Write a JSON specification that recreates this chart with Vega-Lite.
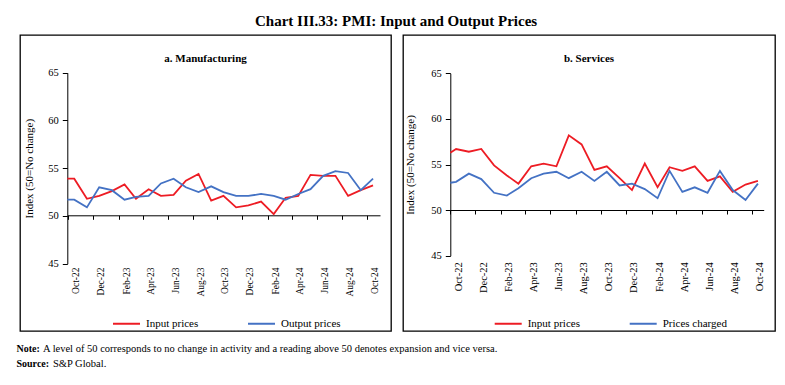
{
  "$schema": "https://vega.github.io/schema/vega-lite/v6.json",
  "padding": {"left": 16, "top": 14, "right": 5, "bottom": 0},
  "config": {
    "font": "Liberation Serif",
    "view": {"stroke": "black", "strokeWidth": 1.3},
    "axis": {"domainColor": "black", "tickColor": "black", "labelColor": "black", "titleColor": "black", "grid": false, "labelFont": "Liberation Serif", "titleFont": "Liberation Serif", "titleFontWeight": "normal"},
    "legend": {"labelFont": "Liberation Serif", "labelColor": "black"}
  },
  "title": {"text": "Chart III.33: PMI: Input and Output Prices", "fontSize": 15, "fontWeight": "bold", "font": "Liberation Serif", "color": "black", "anchor": "middle", "offset": 5},
  "datasets": {
    "mfg": [
      {"month": "2022-09-01T00:00:00", "series": "Input prices", "value": 53.9},
      {"month": "2022-10-01T00:00:00", "series": "Input prices", "value": 53.9},
      {"month": "2022-11-01T00:00:00", "series": "Input prices", "value": 51.8},
      {"month": "2022-12-01T00:00:00", "series": "Input prices", "value": 52.1},
      {"month": "2023-01-01T00:00:00", "series": "Input prices", "value": 52.6},
      {"month": "2023-02-01T00:00:00", "series": "Input prices", "value": 53.3},
      {"month": "2023-03-01T00:00:00", "series": "Input prices", "value": 51.8},
      {"month": "2023-04-01T00:00:00", "series": "Input prices", "value": 52.8},
      {"month": "2023-05-01T00:00:00", "series": "Input prices", "value": 52.1},
      {"month": "2023-06-01T00:00:00", "series": "Input prices", "value": 52.2},
      {"month": "2023-07-01T00:00:00", "series": "Input prices", "value": 53.7},
      {"month": "2023-08-01T00:00:00", "series": "Input prices", "value": 54.4},
      {"month": "2023-09-01T00:00:00", "series": "Input prices", "value": 51.6},
      {"month": "2023-10-01T00:00:00", "series": "Input prices", "value": 52.1},
      {"month": "2023-11-01T00:00:00", "series": "Input prices", "value": 50.9},
      {"month": "2023-12-01T00:00:00", "series": "Input prices", "value": 51.1},
      {"month": "2024-01-01T00:00:00", "series": "Input prices", "value": 51.5},
      {"month": "2024-02-01T00:00:00", "series": "Input prices", "value": 50.2},
      {"month": "2024-03-01T00:00:00", "series": "Input prices", "value": 51.9},
      {"month": "2024-04-01T00:00:00", "series": "Input prices", "value": 52.1},
      {"month": "2024-05-01T00:00:00", "series": "Input prices", "value": 54.3},
      {"month": "2024-06-01T00:00:00", "series": "Input prices", "value": 54.2},
      {"month": "2024-07-01T00:00:00", "series": "Input prices", "value": 54.2},
      {"month": "2024-08-01T00:00:00", "series": "Input prices", "value": 52.1},
      {"month": "2024-09-01T00:00:00", "series": "Input prices", "value": 52.7},
      {"month": "2024-10-01T00:00:00", "series": "Input prices", "value": 53.2},
      {"month": "2022-09-01T00:00:00", "series": "Output prices", "value": 51.7},
      {"month": "2022-10-01T00:00:00", "series": "Output prices", "value": 51.7},
      {"month": "2022-11-01T00:00:00", "series": "Output prices", "value": 50.9},
      {"month": "2022-12-01T00:00:00", "series": "Output prices", "value": 53.0},
      {"month": "2023-01-01T00:00:00", "series": "Output prices", "value": 52.7},
      {"month": "2023-02-01T00:00:00", "series": "Output prices", "value": 51.7},
      {"month": "2023-03-01T00:00:00", "series": "Output prices", "value": 52.0},
      {"month": "2023-04-01T00:00:00", "series": "Output prices", "value": 52.1},
      {"month": "2023-05-01T00:00:00", "series": "Output prices", "value": 53.4},
      {"month": "2023-06-01T00:00:00", "series": "Output prices", "value": 53.9},
      {"month": "2023-07-01T00:00:00", "series": "Output prices", "value": 53.0},
      {"month": "2023-08-01T00:00:00", "series": "Output prices", "value": 52.5},
      {"month": "2023-09-01T00:00:00", "series": "Output prices", "value": 53.1},
      {"month": "2023-10-01T00:00:00", "series": "Output prices", "value": 52.5},
      {"month": "2023-11-01T00:00:00", "series": "Output prices", "value": 52.1},
      {"month": "2023-12-01T00:00:00", "series": "Output prices", "value": 52.1},
      {"month": "2024-01-01T00:00:00", "series": "Output prices", "value": 52.3},
      {"month": "2024-02-01T00:00:00", "series": "Output prices", "value": 52.1},
      {"month": "2024-03-01T00:00:00", "series": "Output prices", "value": 51.7},
      {"month": "2024-04-01T00:00:00", "series": "Output prices", "value": 52.3},
      {"month": "2024-05-01T00:00:00", "series": "Output prices", "value": 52.8},
      {"month": "2024-06-01T00:00:00", "series": "Output prices", "value": 54.2},
      {"month": "2024-07-01T00:00:00", "series": "Output prices", "value": 54.7},
      {"month": "2024-08-01T00:00:00", "series": "Output prices", "value": 54.5},
      {"month": "2024-09-01T00:00:00", "series": "Output prices", "value": 52.7},
      {"month": "2024-10-01T00:00:00", "series": "Output prices", "value": 53.9}
    ],
    "svc": [
      {"month": "2022-09-01T00:00:00", "series": "Input prices", "value": 56.3},
      {"month": "2022-10-01T00:00:00", "series": "Input prices", "value": 56.7},
      {"month": "2022-11-01T00:00:00", "series": "Input prices", "value": 56.4},
      {"month": "2022-12-01T00:00:00", "series": "Input prices", "value": 56.7},
      {"month": "2023-01-01T00:00:00", "series": "Input prices", "value": 54.9},
      {"month": "2023-02-01T00:00:00", "series": "Input prices", "value": 53.8},
      {"month": "2023-03-01T00:00:00", "series": "Input prices", "value": 52.9},
      {"month": "2023-04-01T00:00:00", "series": "Input prices", "value": 54.8},
      {"month": "2023-05-01T00:00:00", "series": "Input prices", "value": 55.1},
      {"month": "2023-06-01T00:00:00", "series": "Input prices", "value": 54.8},
      {"month": "2023-07-01T00:00:00", "series": "Input prices", "value": 58.2},
      {"month": "2023-08-01T00:00:00", "series": "Input prices", "value": 57.2},
      {"month": "2023-09-01T00:00:00", "series": "Input prices", "value": 54.4},
      {"month": "2023-10-01T00:00:00", "series": "Input prices", "value": 54.8},
      {"month": "2023-11-01T00:00:00", "series": "Input prices", "value": 53.5},
      {"month": "2023-12-01T00:00:00", "series": "Input prices", "value": 52.2},
      {"month": "2024-01-01T00:00:00", "series": "Input prices", "value": 55.1},
      {"month": "2024-02-01T00:00:00", "series": "Input prices", "value": 52.5},
      {"month": "2024-03-01T00:00:00", "series": "Input prices", "value": 54.7},
      {"month": "2024-04-01T00:00:00", "series": "Input prices", "value": 54.3},
      {"month": "2024-05-01T00:00:00", "series": "Input prices", "value": 54.8},
      {"month": "2024-06-01T00:00:00", "series": "Input prices", "value": 53.2},
      {"month": "2024-07-01T00:00:00", "series": "Input prices", "value": 53.7},
      {"month": "2024-08-01T00:00:00", "series": "Input prices", "value": 52.0},
      {"month": "2024-09-01T00:00:00", "series": "Input prices", "value": 52.8},
      {"month": "2024-10-01T00:00:00", "series": "Input prices", "value": 53.2},
      {"month": "2022-09-01T00:00:00", "series": "Prices charged", "value": 53.0},
      {"month": "2022-10-01T00:00:00", "series": "Prices charged", "value": 53.1},
      {"month": "2022-11-01T00:00:00", "series": "Prices charged", "value": 54.0},
      {"month": "2022-12-01T00:00:00", "series": "Prices charged", "value": 53.4},
      {"month": "2023-01-01T00:00:00", "series": "Prices charged", "value": 51.9},
      {"month": "2023-02-01T00:00:00", "series": "Prices charged", "value": 51.6},
      {"month": "2023-03-01T00:00:00", "series": "Prices charged", "value": 52.4},
      {"month": "2023-04-01T00:00:00", "series": "Prices charged", "value": 53.5},
      {"month": "2023-05-01T00:00:00", "series": "Prices charged", "value": 54.0},
      {"month": "2023-06-01T00:00:00", "series": "Prices charged", "value": 54.2},
      {"month": "2023-07-01T00:00:00", "series": "Prices charged", "value": 53.5},
      {"month": "2023-08-01T00:00:00", "series": "Prices charged", "value": 54.2},
      {"month": "2023-09-01T00:00:00", "series": "Prices charged", "value": 53.2},
      {"month": "2023-10-01T00:00:00", "series": "Prices charged", "value": 54.2},
      {"month": "2023-11-01T00:00:00", "series": "Prices charged", "value": 52.7},
      {"month": "2023-12-01T00:00:00", "series": "Prices charged", "value": 52.9},
      {"month": "2024-01-01T00:00:00", "series": "Prices charged", "value": 52.3},
      {"month": "2024-02-01T00:00:00", "series": "Prices charged", "value": 51.3},
      {"month": "2024-03-01T00:00:00", "series": "Prices charged", "value": 54.3},
      {"month": "2024-04-01T00:00:00", "series": "Prices charged", "value": 52.0},
      {"month": "2024-05-01T00:00:00", "series": "Prices charged", "value": 52.5},
      {"month": "2024-06-01T00:00:00", "series": "Prices charged", "value": 51.9},
      {"month": "2024-07-01T00:00:00", "series": "Prices charged", "value": 54.3},
      {"month": "2024-08-01T00:00:00", "series": "Prices charged", "value": 52.2},
      {"month": "2024-09-01T00:00:00", "series": "Prices charged", "value": 51.1},
      {"month": "2024-10-01T00:00:00", "series": "Prices charged", "value": 52.9}
    ],
    "notes": [
      {"line": 1, "key": "Note:", "text": "A level of 50 corresponds to no change in activity and a reading above 50 denotes expansion and vice versa."},
      {"line": 2, "key": "Source:", "text": "S&P Global."}
    ]
  },
  "vconcat": [
    {
      "hconcat": [
        {
          "width": 371,
          "height": 296,
          "title": {"text": "a. Manufacturing", "fontSize": 11, "fontWeight": "bold", "color": "black", "anchor": "middle", "frame": "group", "offset": -29},
          "data": {"name": "mfg"},
          "mark": {"type": "line", "strokeWidth": 1.8},
          "encoding": {
            "x": {
              "field": "month", "type": "temporal",
              "scale": {"domain": [{"year": 2022, "month": 9, "date": 14}, {"year": 2024, "month": 10, "date": 18}], "range": [47.3, 360], "clamp": true},
              "axis": {
                "orient": "bottom", "offset": -115.7, "title": null, "format": "%b-%y", "labelAngle": -90,
                "values": [{"year": 2022, "month": 10, "date": 1}, {"year": 2022, "month": 12, "date": 1}, {"year": 2023, "month": 2, "date": 1}, {"year": 2023, "month": 4, "date": 1}, {"year": 2023, "month": 6, "date": 1}, {"year": 2023, "month": 8, "date": 1}, {"year": 2023, "month": 10, "date": 1}, {"year": 2023, "month": 12, "date": 1}, {"year": 2024, "month": 2, "date": 1}, {"year": 2024, "month": 4, "date": 1}, {"year": 2024, "month": 6, "date": 1}, {"year": 2024, "month": 8, "date": 1}, {"year": 2024, "month": 10, "date": 1}],
                "tickSize": 4, "tickOffset": -6, "labelOffset": 7.5, "labelPadding": 47.7, "labelFontSize": 9.5,
                "labelOverlap": false, "labelBound": false, "labelFlush": false
              }
            },
            "y": {
              "field": "value", "type": "quantitative",
              "scale": {"domain": [45, 65], "range": [228.7, 37.7], "nice": false, "zero": false},
              "axis": {"orient": "left", "offset": -47.3, "values": [45, 50, 55, 60, 65], "title": "Index (50=No change)", "titleFontSize": 11, "titlePadding": 13, "labelFontSize": 10.5, "tickSize": 5, "labelPadding": 4}
            },
            "color": {
              "field": "series", "type": "nominal",
              "scale": {"domain": ["Input prices", "Output prices"], "range": ["#ED1C24", "#4472C4"]},
              "legend": {"orient": "none", "legendX": 92, "legendY": 274, "direction": "horizontal", "title": null, "symbolType": "stroke", "symbolSize": 729, "symbolStrokeWidth": 2, "labelFontSize": 11, "columnPadding": 45, "labelOffset": 5, "padding": 0}
            }
          }
        },
        {
          "width": 372,
          "height": 296,
          "title": {"text": "b. Services", "fontSize": 11, "fontWeight": "bold", "color": "black", "anchor": "middle", "frame": "group", "offset": -29},
          "data": {"name": "svc"},
          "mark": {"type": "line", "strokeWidth": 1.8},
          "encoding": {
            "x": {
              "field": "month", "type": "temporal",
              "scale": {"domain": [{"year": 2022, "month": 9, "date": 17}, {"year": 2024, "month": 10, "date": 15}], "range": [47.3, 360.7], "clamp": true},
              "axis": {
                "orient": "bottom", "offset": -121, "title": null, "format": "%b-%y", "labelAngle": -90,
                "values": [{"year": 2022, "month": 10, "date": 1}, {"year": 2022, "month": 12, "date": 1}, {"year": 2023, "month": 2, "date": 1}, {"year": 2023, "month": 4, "date": 1}, {"year": 2023, "month": 6, "date": 1}, {"year": 2023, "month": 8, "date": 1}, {"year": 2023, "month": 10, "date": 1}, {"year": 2023, "month": 12, "date": 1}, {"year": 2024, "month": 2, "date": 1}, {"year": 2024, "month": 4, "date": 1}, {"year": 2024, "month": 6, "date": 1}, {"year": 2024, "month": 8, "date": 1}, {"year": 2024, "month": 10, "date": 1}],
                "tickSize": 4, "tickOffset": -6, "labelOffset": 8, "labelPadding": 47.7, "labelFontSize": 10.5,
                "labelOverlap": false, "labelBound": false, "labelFlush": false
              }
            },
            "y": {
              "field": "value", "type": "quantitative",
              "scale": {"domain": [45, 65], "range": [220.7, 38.3], "nice": false, "zero": false},
              "axis": {"orient": "left", "offset": -47.3, "values": [45, 50, 55, 60, 65], "title": "Index (50=No change)", "titleFontSize": 11, "titlePadding": 15, "labelFontSize": 10.5, "tickSize": 5, "labelPadding": 4}
            },
            "color": {
              "field": "series", "type": "nominal",
              "scale": {"domain": ["Input prices", "Prices charged"], "range": ["#ED1C24", "#4472C4"]},
              "legend": {"orient": "none", "legendX": 90.7, "legendY": 274, "direction": "horizontal", "title": null, "symbolType": "stroke", "symbolSize": 729, "symbolStrokeWidth": 2, "labelFontSize": 11, "columnPadding": 45, "labelOffset": 5, "padding": 0}
            }
          }
        }
      ],
      "spacing": 10,
      "resolve": {"scale": {"x": "independent", "y": "independent", "color": "independent"}, "axis": {"x": "independent", "y": "independent"}, "legend": {"color": "independent"}}
    },
    {
      "width": 753,
      "height": 30,
      "view": {"stroke": null},
      "data": {"name": "notes"},
      "encoding": {
        "y": {"field": "line", "type": "ordinal", "axis": null, "scale": {"paddingInner": 0, "paddingOuter": 0}},
        "x": {"datum": 0, "type": "quantitative", "scale": {"domain": [0, 1]}, "axis": null}
      },
      "layer": [
        {"mark": {"type": "text", "align": "left", "baseline": "middle", "fontSize": 10, "fontWeight": "bold", "dx": -3.5, "color": "black"}, "encoding": {"text": {"field": "key"}}},
        {"transform": [{"filter": "datum.line == 1"}], "mark": {"type": "text", "align": "left", "baseline": "middle", "fontSize": 10.5, "dx": 23, "color": "black"}, "encoding": {"text": {"field": "text"}}},
        {"transform": [{"filter": "datum.line == 2"}], "mark": {"type": "text", "align": "left", "baseline": "middle", "fontSize": 10.5, "dx": 33, "color": "black"}, "encoding": {"text": {"field": "text"}}}
      ]
    }
  ],
  "spacing": 9,
  "resolve": {"scale": {"x": "independent", "y": "independent"}}
}
